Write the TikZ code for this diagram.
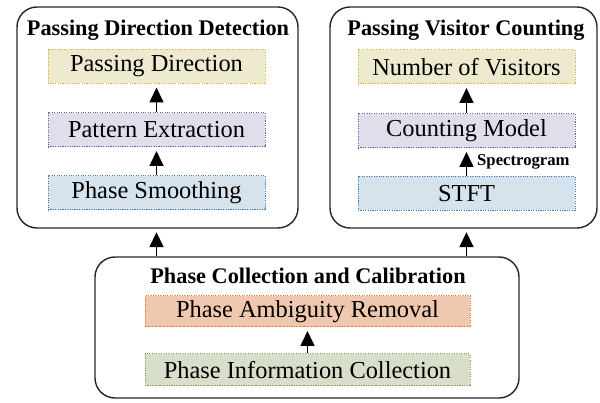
\documentclass[tikz,border=0pt]{standalone}
\usepackage{fontspec}
\setmainfont{Liberation Serif}
\usetikzlibrary{arrows.meta,calc}

\definecolor{ylwfill}{HTML}{EEEAD0}\definecolor{ylwline}{HTML}{E3B03C}
\definecolor{prpfill}{HTML}{E1DDEA}\definecolor{prpline}{HTML}{6E5AA0}
\definecolor{blufill}{HTML}{D6E2EC}\definecolor{bluline}{HTML}{3C78BE}
\definecolor{orgfill}{HTML}{F0C8AF}\definecolor{orgline}{HTML}{E66E28}
\definecolor{grnfill}{HTML}{D8DECA}\definecolor{grnline}{HTML}{78A050}

\tikzset{
  group/.style={draw=black!85, line width=1.4pt, rounded corners=20pt, inner sep=0pt},
  grouptitle/.style={anchor=base, inner sep=0pt, font=\fontsize{22.3}{25}\selectfont\bfseries},
  stage/.style={line width=1pt, dash pattern=on 1.1pt off 1.3pt, inner sep=0pt,
    minimum width=217pt, minimum height=34pt, font=\fontsize{24.4}{27}\selectfont, text=black},
  ylw/.style={stage, fill=ylwfill, draw=ylwline},
  prp/.style={stage, fill=prpfill, draw=prpline},
  blu/.style={stage, fill=blufill, draw=bluline},
  org/.style={stage, fill=orgfill, draw=orgline, minimum width=325pt, minimum height=31pt},
  grn/.style={stage, fill=grnfill, draw=grnline, minimum width=325pt, minimum height=32pt},
  arr/.style={line width=1.6pt, draw=black, -{Triangle[width=14pt,length=15pt]}, shorten >=3.5pt},
  smalllabel/.style={anchor=west, inner sep=0pt, font=\fontsize{16.7}{19}\selectfont\bfseries}
}

\begin{document}
\begin{tikzpicture}[x=1pt,y=-1pt]
  \useasboundingbox (0,0) rectangle (600,403);

  % outer groups
  \node[group, minimum width=281pt, minimum height=221pt] (pdd) at (157.5,117.5) {};
  \node[group, minimum width=267pt, minimum height=221pt] (pvc) at (463.5,117.5) {};
  \node[group, minimum width=424pt, minimum height=141pt] (pcc) at (307,327.5) {};

  \node[grouptitle] (t1) at (158,36) {Passing Direction Detection};
  \node[grouptitle] (t2) at (466,36) {Passing Visitor Counting};
  \node[grouptitle] (t3) at (308,284) {Phase Collection and Calibration};

  % passing direction detection
  \node[ylw] (dir) at (156.5,66.5) {Passing Direction};
  \node[prp] (pat) at (156.5,130) {Pattern Extraction};
  \node[blu] (smo) at (156.5,193) {Phase Smoothing};

  % passing visitor counting
  \node[ylw] (num) at (466.5,67) {Number of Visitors};
  \node[prp] (cnt) at (466.5,131) {Counting Model};
  \node[blu] (stft) at (466.5,193.5) {STFT};

  % phase collection and calibration
  \node[org] (amb) at (307.5,311.5) {Phase Ambiguity Removal};
  \node[grn] (inf) at (307.5,370) {Phase Information Collection};

  % flows
  \draw[arr] (pat.north) -- (dir.south);
  \draw[arr] (smo.north) -- (pat.south);
  \draw[arr] (cnt.north) -- (num.south);
  \draw[arr] (stft.north) -- (cnt.south);
  \draw[arr] (inf.north) -- (amb.south);
  \draw[arr] (pcc.north -| smo) -- (pdd.south -| smo);
  \draw[arr] (pcc.north -| stft) -- (pvc.south -| stft);

  \node[smalllabel] (spec) at (477,161.5) {Spectrogram};
\end{tikzpicture}
\end{document}
